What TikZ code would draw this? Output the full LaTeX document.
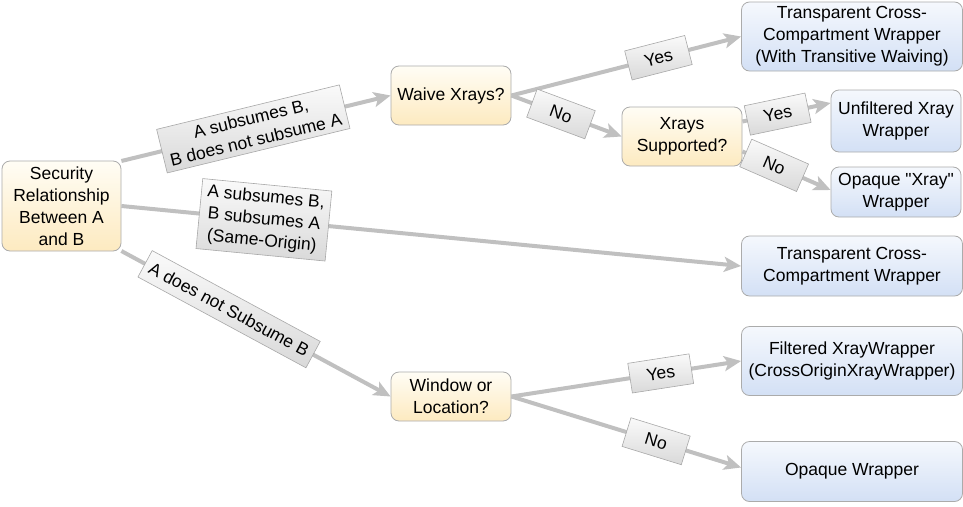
\documentclass[tikz,border=0pt]{standalone}
\usepackage{fontspec}
\setmainfont{Liberation Sans}
\usetikzlibrary{arrows.meta,calc}
\definecolor{edgegray}{HTML}{C0C0C0}
\definecolor{boxborder}{HTML}{ABABAB}
\definecolor{dtop}{HTML}{FFFDF5}
\definecolor{dbot}{HTML}{FDEAC0}
\definecolor{otop}{HTML}{F5F8FD}
\definecolor{obot}{HTML}{D3E0F5}
\definecolor{ltop}{HTML}{FAFAFA}
\definecolor{lbot}{HTML}{D9D9D9}
\definecolor{lborder}{HTML}{A8A8A8}
\begin{document}
\begin{tikzpicture}[x=1pt,y=-1pt,
  basebox/.style={draw=boxborder, line width=0.8pt, rounded corners=8pt, align=center,
    font=\fontsize{17.5}{22}\selectfont, inner sep=0pt},
  decision/.style={basebox, top color=dtop, bottom color=dbot, minimum width=120pt},
  outcome/.style={basebox, top color=otop, bottom color=obot},
  lbl/.style={draw=lborder, line width=0.6pt, top color=ltop, bottom color=lbot, sloped,
    align=center, font=\fontsize{17.5}{22}\selectfont, inner xsep=6pt, inner ysep=5pt,
    minimum width=62pt, minimum height=30pt},
  edge/.style={draw=edgegray, line width=4pt,
    -{Stealth[length=17pt,width=15pt,inset=4pt]}}
]
\useasboundingbox (0,0) rectangle (963,506);

% nodes
\node[decision, minimum width=119pt, minimum height=90pt] (sec) at (61.5,206)
  {Security\\Relationship\\Between A\\and B};
\node[decision, minimum height=59pt] (waive) at (451,95.5) {Waive Xrays?};
\node[decision, minimum height=59pt] (xs) at (682,136.5) {Xrays\\Supported?};
\node[decision, minimum height=49pt] (win) at (451,396.5) {Window or\\Location?};

\node[outcome, minimum width=221pt, minimum height=69pt] (tccwt) at (852,36.5)
  {Transparent Cross-\\Compartment Wrapper\\(With Transitive Waiving)};
\node[outcome, minimum width=130pt, minimum height=62pt] (unf) at (896,121)
  {Unfiltered Xray\\Wrapper};
\node[outcome, minimum width=130pt, minimum height=50pt] (opx) at (896,192)
  {Opaque \textquotedbl Xray\textquotedbl\\Wrapper};
\node[outcome, minimum width=221pt, minimum height=60pt] (tccw) at (852,266)
  {Transparent Cross-\\Compartment Wrapper};
\node[outcome, minimum width=221pt, minimum height=69pt] (filt) at (852,361)
  {Filtered XrayWrapper\\(CrossOriginXrayWrapper)};
\node[outcome, minimum width=221pt, minimum height=60pt] (opw) at (852,471.5)
  {Opaque Wrapper};

% edges
\path[edge] ($(sec.east)+(0,-45)$) -- (waive.west)
  node[lbl, pos=0.49] (l1) {A subsumes B,\\B does not subsume A};
\path[edge] (sec.east) -- (tccw.west)
  node[lbl, pos=0.23] (l2) {A subsumes B,\\B subsumes A\\(Same-Origin)};
\path[edge] ($(sec.east)+(0,45)$) -- (win.west)
  node[lbl, pos=0.40] (l3) {A does not Subsume B};
\path[edge] (waive.east) -- (tccwt.west)
  node[lbl, pos=0.64] (l4) {Yes};
\path[edge] (waive.east) -- (xs.west)
  node[lbl, pos=0.45] (l5) {No};
\path[edge] ($(xs.east)+(0,-15)$) -- ($(unf.west)+(0,-18)$)
  node[lbl, pos=0.40] (l6) {Yes};
\path[edge] ($(xs.east)+(0,15)$) -- ($(opx.west)+(0,-2)$)
  node[lbl, pos=0.36] (l7) {No};
\path[edge] (win.east) -- (filt.west)
  node[lbl, pos=0.65] (l8) {Yes};
\path[edge] (win.east) -- ($(opw.west)+(0,-4)$)
  node[lbl, pos=0.63] (l9) {No};
\end{tikzpicture}
\end{document}
